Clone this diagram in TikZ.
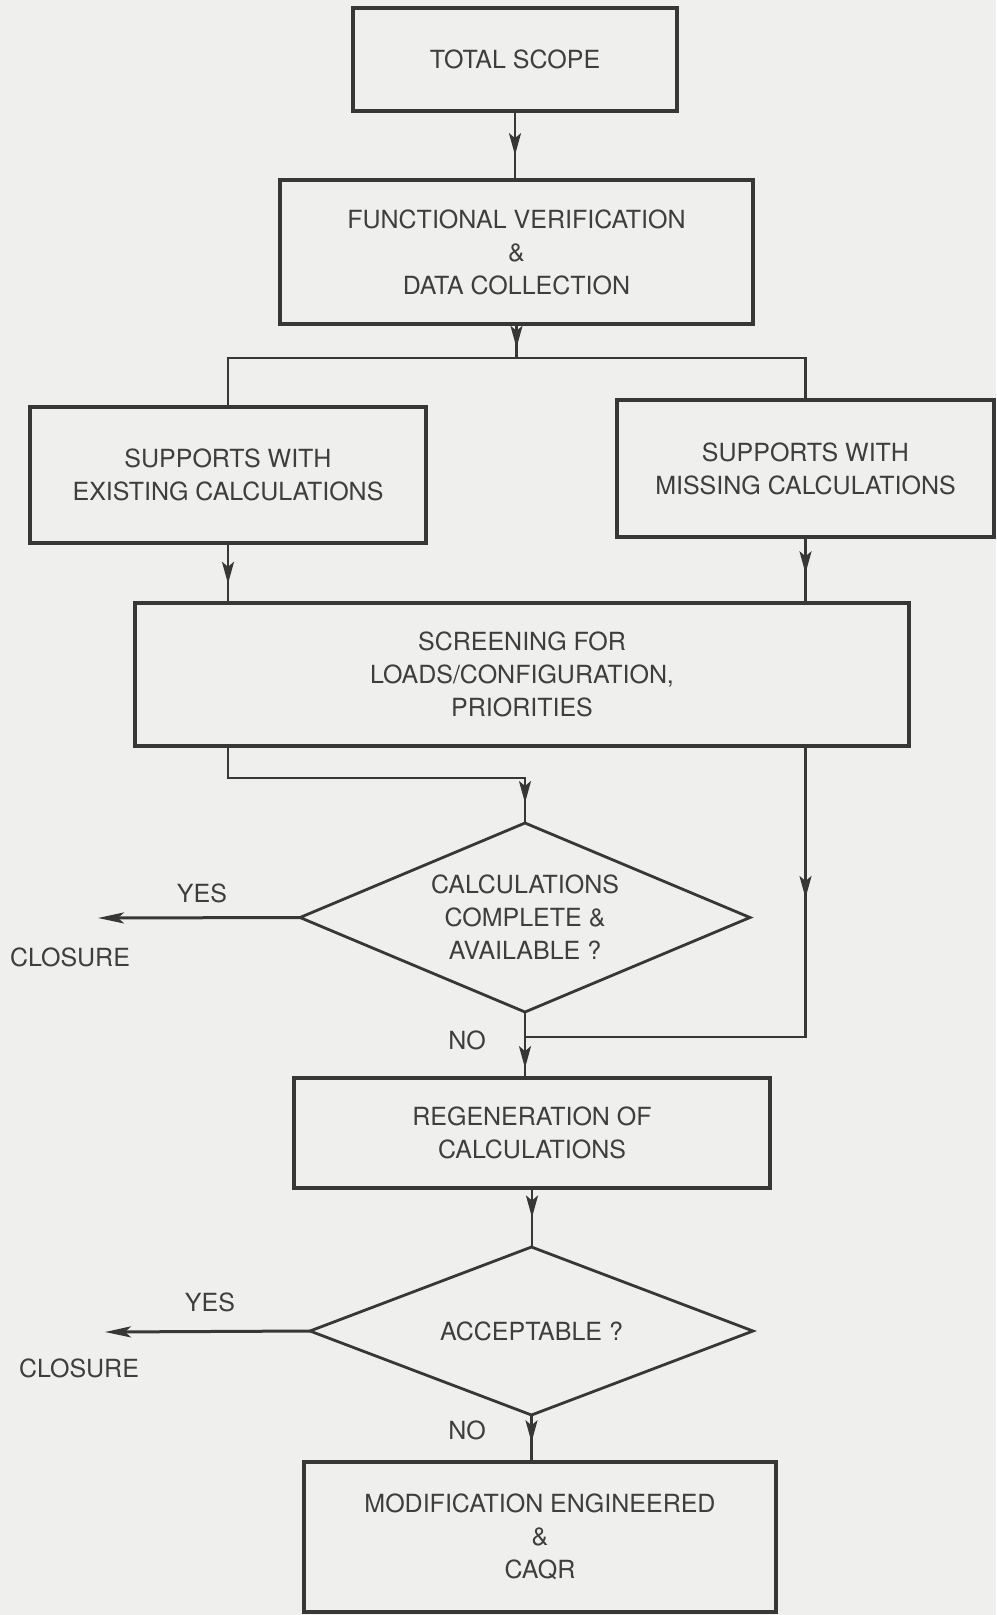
\documentclass[tikz,border=0pt]{standalone}
\usepackage{fontspec}
\setmainfont{TeX Gyre Heros}
\usetikzlibrary{arrows.meta,shapes.geometric,decorations.markings}
\definecolor{bg}{RGB}{239,239,237}
\definecolor{ink}{RGB}{55,55,55}
\definecolor{txt}{RGB}{62,62,62}
\begin{document}
\begin{tikzpicture}[x=0.5pt,y=-0.5pt,
  txtfont/.style={font=\fontsize{12.5}{16.5}\selectfont},
  box/.style={draw=ink,line width=1.8pt,rectangle,inner sep=0pt,outer sep=0pt,align=center,text=txt,txtfont},
  dia/.style={draw=ink,line width=1.4pt,diamond,aspect=2.4,inner sep=0pt,outer sep=0pt,align=center,text=txt,txtfont},
  conn/.style={draw=ink,line width=1.2pt},
  yesarrow/.style={draw=ink,line width=1.5pt,-{Stealth[length=13pt,width=5.5pt,inset=3pt]}},
  midarrow/.style={postaction={decorate},decoration={markings,mark=at position #1 with {\arrow[ink]{Stealth[length=11pt,width=6pt,inset=2.5pt]}}}},
  lbl/.style={text=txt,txtfont,inner sep=0pt}
]
\useasboundingbox (0,0) rectangle (996,1615);
\fill[bg] (0,0) rectangle (996,1615);

% boxes
\node[box,minimum width=162pt,minimum height=51.5pt] (scope) at (515,59.5) {TOTAL SCOPE};
\node[box,minimum width=236.5pt,minimum height=72pt] (func) at (516.5,252) {FUNCTIONAL VERIFICATION\\\&\\DATA COLLECTION};
\node[box,minimum width=198pt,minimum height=68pt] (left) at (228,475) {SUPPORTS WITH\\EXISTING CALCULATIONS};
\node[box,minimum width=188.5pt,minimum height=68.5pt] (right) at (805.5,468.5) {SUPPORTS WITH\\MISSING CALCULATIONS};
\node[box,minimum width=387pt,minimum height=71.5pt] (screen) at (522,674.5) {SCREENING FOR\\LOADS/CONFIGURATION,\\PRIORITIES};
\node[dia,minimum width=225pt,minimum height=94.5pt] (d1) at (525,917.5) {CALCULATIONS\\COMPLETE \&\\AVAILABLE ?};
\node[box,minimum width=238pt,minimum height=55pt] (regen) at (532,1133) {REGENERATION OF\\CALCULATIONS};
\node[dia,minimum width=221.5pt,minimum height=84pt] (d2) at (531.5,1331) {ACCEPTABLE ?};
\node[box,minimum width=236pt,minimum height=75pt] (mod) at (540,1537) {MODIFICATION ENGINEERED\\\&\\CAQR};

% labels
\node[lbl] (yes1) at (202,893) {YES};
\node[lbl] (clo1) at (70,957) {CLOSURE};
\node[lbl] (no1) at (467,1040) {NO};
\node[lbl] (yes2) at (210,1302) {YES};
\node[lbl] (clo2) at (79,1368) {CLOSURE};
\node[lbl] (no2) at (467,1430) {NO};

% helper coordinates
\coordinate (sy) at (0,358);
\coordinate (split) at (func.south |- sy);
\coordinate (jy) at (0,1037);
\coordinate (join) at (d1.south |- jy);
\coordinate (c1) at (98,918);
\coordinate (c2) at (105,1332);

% connectors
\draw[conn,midarrow=0.64] (scope.south) -- (scope.south |- func.north);
\draw[conn,midarrow=0.7] (func.south) -- (split);
\draw[conn] (left.north) |- (split) -| (right.north);
\draw[conn,midarrow=0.68] (left.south) -- (left.south |- screen.north);
\draw[conn,midarrow=0.55] (right.south) -- (right.south |- screen.north);
\draw[conn,midarrow=177pt] (screen.south -| left.south) -- ++(0,32) -| (d1.north);
\draw[conn,midarrow=76pt] (screen.south -| right.south) |- (join);
\draw[conn,midarrow=0.85] (d1.south) -- (d1.south |- regen.north);
\draw[conn,midarrow=0.5] (regen.south) -- (regen.south |- d2.north);
\draw[conn,midarrow=0.58] (d2.south) -- (d2.south |- mod.north);
\draw[yesarrow] (d1.west) -- (c1);
\draw[yesarrow] (d2.west) -- (c2);
\end{tikzpicture}
\end{document}
